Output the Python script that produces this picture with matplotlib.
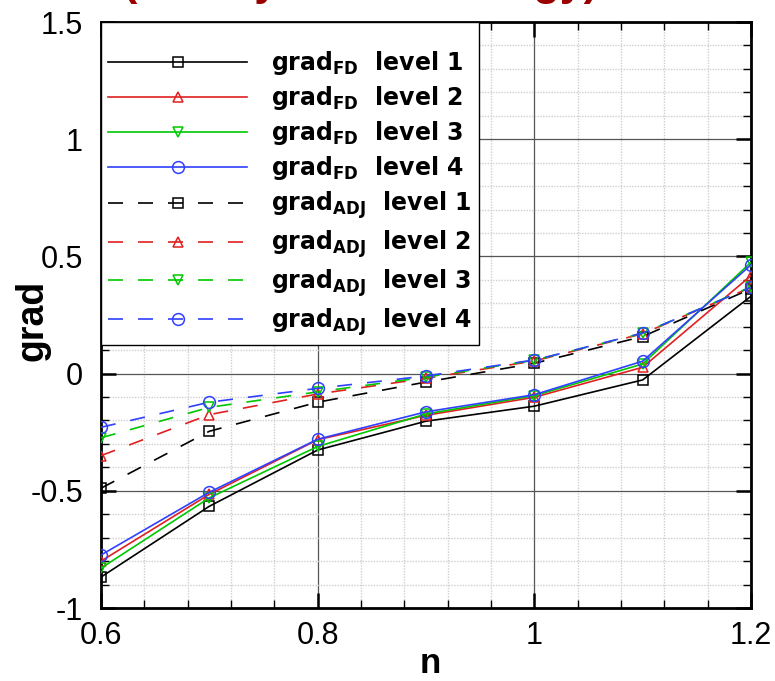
import numpy as np
import matplotlib
matplotlib.use('Agg')
import matplotlib.pyplot as plt
from matplotlib.ticker import MultipleLocator

# datos
n = [0.6, 0.7, 0.8, 0.9, 1.0, 1.1, 1.2]

fd_1 = [-0.868, -0.566, -0.326, -0.203, -0.139, -0.027, 0.330]
fd_2 = [-0.800, -0.515, -0.282, -0.178, -0.101, 0.027, 0.418]
fd_3 = [-0.830, -0.530, -0.311, -0.172, -0.094, 0.041, 0.475]
fd_4 = [-0.774, -0.506, -0.280, -0.163, -0.090, 0.053, 0.464]

adj_1 = [-0.489, -0.246, -0.122, -0.036, 0.044, 0.158, 0.362]
adj_2 = [-0.350, -0.175, -0.087, -0.020, 0.054, 0.170, 0.368]
adj_3 = [-0.274, -0.144, -0.078, -0.015, 0.057, 0.172, 0.370]
adj_4 = [-0.229, -0.122, -0.063, -0.010, 0.058, 0.173, 0.368]

niveles = ['level 1', 'level 2', 'level 3', 'level 4']
colores = ['black', '#e02020', '#00c800', '#3040ff']
marcadores = ['s', '^', 'v', 'o']
tam_marcador = [6.5, 7.5, 7.5, 8.5]

titulo = '(Steady Mesh Strategy)'

plt.rcParams['mathtext.fontset'] = 'dejavusans'

fig = plt.figure(figsize=(7.75, 6.81), dpi=100)
ax = fig.add_axes([101/775, 1 - 608/681, 650/775, 586/681])

# curvas FD (solidas)
for datos, nivel, c, m, ms in zip([fd_1, fd_2, fd_3, fd_4], niveles, colores, marcadores, tam_marcador):
    ax.plot(n, datos, color=c, lw=1.2, marker=m, ms=ms, mfc='none', mec=c, mew=1.1,
            label=r'$\mathbf{grad_{FD}}$' + '  ' + nivel, zorder=3)

# curvas adjuntas (discontinuas)
for datos, nivel, c, m, ms in zip([adj_1, adj_2, adj_3, adj_4], niveles, colores, marcadores, tam_marcador):
    ax.plot(n, datos, color=c, lw=1.2, dashes=(9, 9), marker=m, ms=ms, mfc='none', mec=c, mew=1.1,
            label=r'$\mathbf{grad_{ADJ}}$' + '  ' + nivel, zorder=3)

ax.set_xlim(0.6, 1.2)
ax.set_ylim(-1, 1.5)

ax.xaxis.set_minor_locator(MultipleLocator(0.04))
ax.yaxis.set_minor_locator(MultipleLocator(0.1))

ax.set_xticks([0.6, 0.8, 1.0, 1.2])
ax.set_xticklabels(['0.6', '0.8', '1', '1.2'])
ax.set_yticks([-1, -0.5, 0, 0.5, 1, 1.5])
ax.set_yticklabels(['-1', '-0.5', '0', '0.5', '1', '1.5'])

for lab in ax.get_xticklabels() + ax.get_yticklabels():
    lab.set_family('Liberation Sans')
    lab.set_fontsize(22)

ax.tick_params(which='major', direction='in', length=11, width=1.8, top=True, right=True)
ax.tick_params(which='minor', direction='in', length=6, width=1, top=True, right=True)
ax.tick_params(axis='x', which='major', pad=9)
ax.tick_params(axis='y', which='major', pad=13)

ax.grid(which='major', color='#555555', lw=0.9, ls='-', zorder=1)
ax.grid(which='minor', color='#cfcfcf', lw=1.0, ls=(0, (1, 1)), zorder=1)
ax.set_axisbelow(True)

for s in ax.spines.values():
    s.set_linewidth(2.0)

ax.set_xlabel('n', fontsize=25, fontweight='bold', family='Liberation Sans', va='center')
ax.xaxis.set_label_coords(0.506, -0.0939)
ax.set_ylabel('grad', fontsize=27, fontweight='bold', family='Liberation Sans', va='center')
ax.yaxis.set_label_coords(-0.106, 0.491)

leg = ax.legend(loc='upper left', bbox_to_anchor=(0, 1), borderaxespad=0, numpoints=1,
                handlelength=5.9, handletextpad=1.0, labelspacing=0.30, borderpad=0.3,
                fancybox=False, framealpha=1, edgecolor='black',
                title=' ', title_fontsize=9,
                prop={'family': 'DejaVu Sans', 'weight': 'bold', 'size': 17})
leg.get_frame().set_linewidth(1.0)
leg.set_zorder(5)

# titulo cortado arriba
fig.text(0.465, 1 + 5/681, titulo, ha='center', va='baseline', color='#990000',
         fontsize=31, fontweight='bold', family='Liberation Sans')

fig.savefig('out.png', dpi=100)
